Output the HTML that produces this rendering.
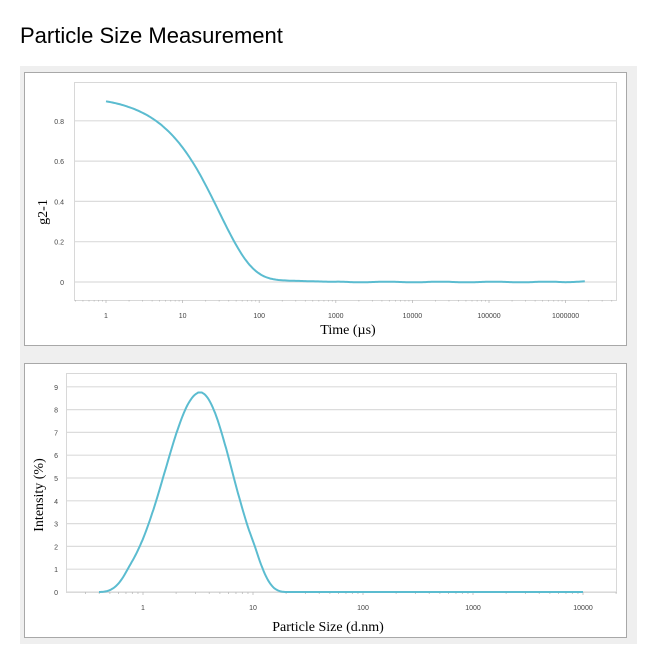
<!DOCTYPE html>
<html><head><meta charset="utf-8"><style>
body{margin:0;background:#fff;width:651px;height:655px;overflow:hidden;font-family:"Liberation Sans",Arial,sans-serif}
</style></head><body>
<svg id="s" width="651" height="655" xmlns="http://www.w3.org/2000/svg" font-family="Liberation Sans, Arial, sans-serif">
<text x="20" y="43" font-size="22" fill="#000">Particle Size Measurement</text>
<rect x="20" y="66" width="617" height="578" fill="#efefef"/>
<rect x="24.5" y="72.5" width="602" height="273" fill="#fff" stroke="#a8a8a8"/>
<rect x="24.5" y="363.5" width="602" height="274" fill="#fff" stroke="#a8a8a8"/>
<rect x="74.5" y="82.5" width="542" height="218" fill="#fff" stroke="#d8d8d8"/>
<rect x="66.5" y="373.5" width="550" height="219" fill="#fff" stroke="#d8d8d8"/>
<g id="g1"></g><g id="g2"></g>
<text transform="translate(47,212) rotate(-90)" font-family="Liberation Serif, serif" font-size="14" text-anchor="middle">g2-1</text>
<text x="348" y="334" font-family="Liberation Serif, serif" font-size="14" text-anchor="middle">Time (µs)</text>
<text transform="translate(43,495) rotate(-90)" font-family="Liberation Serif, serif" font-size="14" text-anchor="middle">Intensity (%)</text>
<text x="328" y="631" font-family="Liberation Serif, serif" font-size="14" text-anchor="middle">Particle Size (d.nm)</text>
</svg>
<script>
var NS="http://www.w3.org/2000/svg";
function el(p,t,a,txt){var e=document.createElementNS(NS,t);for(var k in a)e.setAttribute(k,a[k]);if(txt!=null)e.textContent=txt;p.appendChild(e);return e;}
var g1=document.getElementById('g1'),g2=document.getElementById('g2');
var Y1=function(v){return 282-v*201.5}, X1=function(t){return 106+76.6*Math.log10(t)};
[0,0.2,0.4,0.6,0.8].forEach(function(v){var y=Y1(v);
 el(g1,'line',{x1:75,x2:617,y1:y,y2:y,stroke:'#dcdcdc','stroke-width':1.2});
 el(g1,'text',{x:64,y:y+3,'font-size':7,fill:'#444','text-anchor':'end'},v==0?'0':v.toFixed(1));});
var labs=['1','10','100','1000','10000','100000','1000000'];
for(var d=0;d<7;d++){el(g1,'text',{x:X1(Math.pow(10,d)),y:318,'font-size':7,fill:'#444','text-anchor':'middle'},labs[d]);}
for(var d=-1;d<7;d++)for(var m=1;m<10;m++){var x=X1(m*Math.pow(10,d));if(x<75||x>617)continue;
 el(g1,'line',{x1:x,x2:x,y1:300,y2:m==1?303:301.5,stroke:'#bbb','stroke-width':0.8});}
var p='';for(var i=0;i<=300;i++){var lt=i/300*6.25,t=Math.pow(10,lt);
 var v=0.915*Math.exp(-t/30)+0.012*Math.exp(-t/400)+0.0015*Math.sin(lt*9)*(lt>3?1:0)+(lt>6?0.004*(lt-6)/0.25:0);
 p+=(i?'L':'M')+X1(t).toFixed(1)+','+Y1(v).toFixed(1);}
el(g1,'path',{d:p,fill:'none',stroke:'#5bbcd0','stroke-width':2});
var Y2=function(v){return 592-v*22.8}, X2=function(s){return 143+110*Math.log10(s)};
for(var v=0;v<=9;v++){var y=Y2(v);
 el(g2,'line',{x1:67,x2:617,y1:y,y2:y,stroke:'#dcdcdc','stroke-width':1.2});
 el(g2,'text',{x:58,y:y+3,'font-size':7,fill:'#444','text-anchor':'end'},''+v);}
var l2=['1','10','100','1000','10000'];
for(var d=0;d<5;d++)el(g2,'text',{x:X2(Math.pow(10,d)),y:610,'font-size':7,fill:'#444','text-anchor':'middle'},l2[d]);
for(var d=-1;d<5;d++)for(var m=1;m<10;m++){var x=X2(m*Math.pow(10,d));if(x<67||x>617)continue;
 el(g2,'line',{x1:x,x2:x,y1:592,y2:m==1?595:594,stroke:'#bbb','stroke-width':0.8});}
function ss(a,b,x){var t=Math.min(1,Math.max(0,(x-a)/(b-a)));return t*t*(3-2*t);}
var q='';for(var i=0;i<=400;i++){var ls=-0.4+i/400*4.4;var c=0.52,s=ls<c?0.32:0.29;
 var v=8.75*Math.exp(-Math.pow(ls-c,2)/(2*s*s));if(ls>0.5&&ls<0.54)v=8.75;
 v*=ss(-0.4,-0.1,ls)*(1-ss(1.0,1.3,ls));
 q+=(i?'L':'M')+X2(Math.pow(10,ls)).toFixed(1)+','+Y2(v).toFixed(1);}
el(g2,'path',{d:q,fill:'none',stroke:'#5bbcd0','stroke-width':2});
</script>
</body></html>
